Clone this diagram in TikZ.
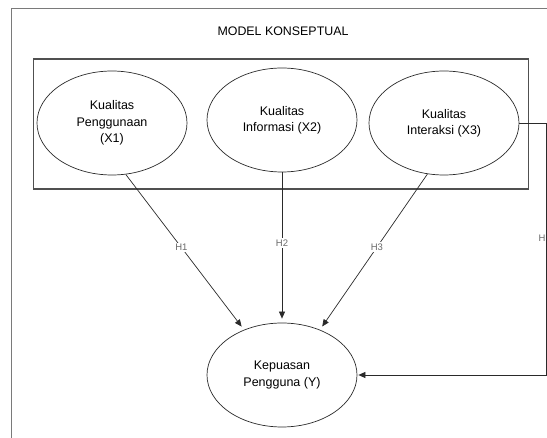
\documentclass[tikz,border=0pt]{standalone}
\usepackage{fontspec}
\setmainfont{Liberation Sans}
\usetikzlibrary{positioning,calc,arrows.meta,shapes.geometric}
\definecolor{frameGray}{HTML}{7A7A7A}
\definecolor{boxGray}{HTML}{505050}
\definecolor{lineDark}{HTML}{2A2A2A}
\definecolor{labGray}{HTML}{6A6A6A}
\tikzset{
  latent/.style={ellipse,draw=lineDark,line width=0.7pt,minimum width=150pt,minimum height=104pt,
    inner sep=0pt,align=center,text=black,font=\fontsize{12.5}{16.4}\selectfont},
  conn/.style={draw=lineDark,line width=0.7pt,-{Triangle[length=7pt,width=6pt]},shorten >=4pt},
  hlab/.style={fill=white,inner sep=1.5pt,text=labGray,font=\fontsize{9.5}{11}\selectfont}
}

\begin{document}
\begin{tikzpicture}[x=1pt,y=-1pt]
\useasboundingbox (0,0) rectangle (547,438);
\draw[frameGray,line width=0.9pt] (11,438)--(11,8.5)--(547,8.5);
\node[text=black,font=\fontsize{12.4}{14}\selectfont] (title) at (283,31) {MODEL KONSEPTUAL};
\draw[boxGray,line width=1.1pt] (33.5,59) rectangle (528.5,189);
\foreach \n/\x/\y/\txt in {X1/112/123/{Kualitas\\Penggunaan\\(X1)},
    X2/282/120/{Kualitas\\Informasi (X2)},X3/444/123/{Kualitas\\Interaksi (X3)}}{
  \node[latent] (\n) at (\x,\y) {\txt};
}
\node[latent] (Y) at (282,375) {Kepuasan\\Pengguna (Y)};
\foreach \from/\to/\lab in {X1.-75/Y.130/H1,X2.south/Y.north/H2,X3.-108/Y.50/H3}{
  \draw[conn] (\from) -- node[hlab,pos=0.47] {\lab} (\to);
}
% H4 runs round the right side
\coordinate (side) at (546,0);
\draw[conn,shorten >=1pt] (X3.east) -- (X3.east -| side) -- (Y.east -| side) -- (Y.east);
\node[text=labGray,font=\fontsize{9.5}{11}\selectfont,anchor=west,inner sep=0pt] (h4) at (538.5,238) {H};
\end{tikzpicture}
\end{document}
